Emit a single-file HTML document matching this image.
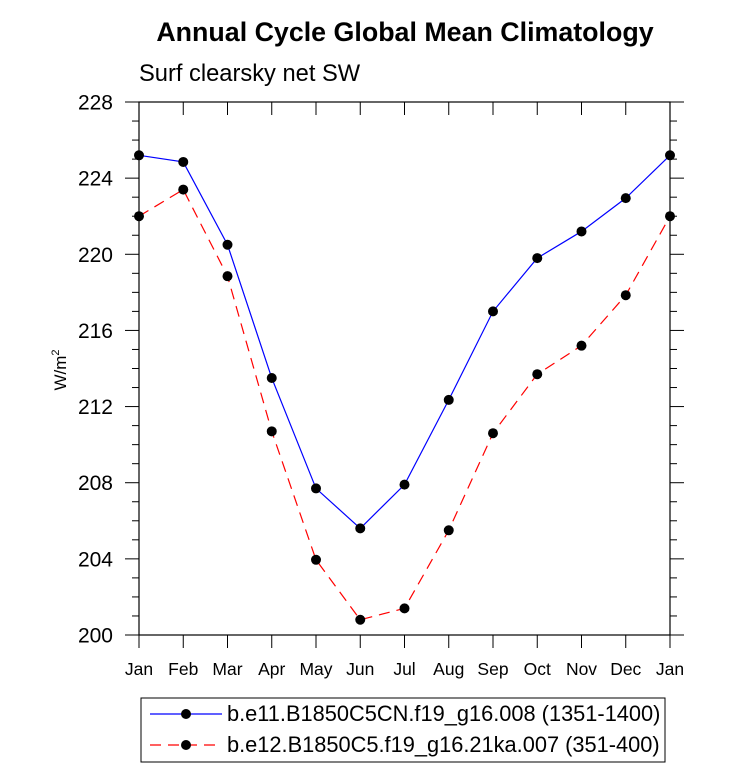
<!DOCTYPE html>
<html><head><meta charset="utf-8"><style>
body{margin:0;background:#fff;font-family:"Liberation Sans",sans-serif;}
</style></head><body>
<svg id="chart" width="733" height="773" xmlns="http://www.w3.org/2000/svg" font-family="Liberation Sans, sans-serif">
<text x="405" y="41" text-anchor="middle" font-size="26.8" font-weight="bold">Annual Cycle Global Mean Climatology</text>
<text x="139" y="81" font-size="23.7">Surf clearsky net SW</text>
<text transform="translate(66,370) rotate(-90)" text-anchor="middle" font-size="17">W/m<tspan dy="-7" font-size="11">2</tspan></text>
<g id="axes"></g>
<g id="series"></g>
<g>
<rect x="141" y="698" width="524" height="64" fill="none" stroke="#000" stroke-width="1"/>
<line x1="150" y1="714" x2="222" y2="714" stroke="#0000ff" stroke-width="1.2"/>
<circle cx="186" cy="714" r="5" fill="#000"/>
<text x="227" y="721" font-size="21.8">b.e11.B1850C5CN.f19_g16.008 (1351-1400)</text>
<line x1="150" y1="745" x2="222" y2="745" stroke="#ff0000" stroke-width="1.2" stroke-dasharray="11,7"/>
<circle cx="186" cy="745" r="5" fill="#000"/>
<text x="227" y="752" font-size="21.8">b.e12.B1850C5.f19_g16.21ka.007 (351-400)</text>
</g>
</svg>
<script>
const months=["Jan","Feb","Mar","Apr","May","Jun","Jul","Aug","Sep","Oct","Nov","Dec","Jan"];
const blueVals=[225.2,224.85,220.5,213.5,207.7,205.6,207.9,212.35,217.0,219.8,221.2,222.95,225.2];
const redVals=[222.0,223.4,218.85,210.7,203.95,200.8,201.4,205.5,210.6,213.7,215.2,217.85,222.0];
const yTicks=[200,204,208,212,216,220,224,228];
const X0=139,X1=670,Y0=635,Y1=102,yMin=200,yMax=228;
const xs=i=>X0+(X1-X0)*i/(months.length-1);
const ys=v=>Y0-(v-yMin)/(yMax-yMin)*(Y0-Y1);
const NS="http://www.w3.org/2000/svg";
function mk(t,a,p){const e=document.createElementNS(NS,t);for(const k in a)e.setAttribute(k,a[k]);p.appendChild(e);return e;}
const ax=document.getElementById('axes');
const frame=mk('rect',{x:X0,y:Y1,width:X1-X0,height:Y0-Y1,fill:'none',stroke:'#000','stroke-width':1.2},ax);


for(let v=yMin;v<=yMax;v++){
  const major=(v-yMin)%4===0,len=major?14:7,y=ys(v);
  mk('line',{x1:X0-len,y1:y,x2:X0,y2:y,stroke:'#000','stroke-width':1},ax);
  mk('line',{x1:X1,y1:y,x2:X1+len,y2:y,stroke:'#000','stroke-width':1},ax);
}
yTicks.forEach(v=>{
  const t=mk('text',{x:X0-26,y:ys(v)+7.5,'text-anchor':'end','font-size':21},ax);
  t.textContent=v;
  
  
});
months.forEach((m,i)=>{
  const x=xs(i);
  mk('line',{x1:x,y1:Y0,x2:x,y2:Y0+13,stroke:'#000','stroke-width':1},ax);
  mk('line',{x1:x,y1:Y1,x2:x,y2:Y1+13,stroke:'#000','stroke-width':1},ax);
  const t=mk('text',{x:x,y:Y0+40,'text-anchor':'middle','font-size':17.5},ax);
  t.textContent=m;
  
  
});
const sg=document.getElementById('series');
function series(vals,color,dash,name){
  const pl=mk('polyline',{points:vals.map((v,i)=>xs(i)+','+ys(v)).join(' '),fill:'none',stroke:color,'stroke-width':1.2,'stroke-dasharray':dash},sg);
  
  
  vals.forEach((v,i)=>{
    const c=mk('circle',{cx:xs(i),cy:ys(v),r:5,fill:'#000'},sg);
    
    
  });
}
series(redVals,'#ff0000','11,7','red-series');
series(blueVals,'#0000ff','none','blue-series');
</script>
</body></html>
